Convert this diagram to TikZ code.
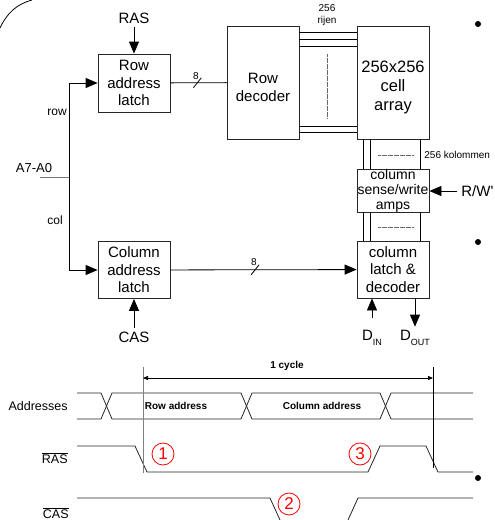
\documentclass[tikz,border=0pt]{standalone}
\usepackage{fontspec}
\setmainfont{Liberation Sans}[Ligatures=TeXOff]
\usetikzlibrary{arrows.meta}
\tikzset{
blk/.style={draw=black!85, align=center, inner sep=0pt, minimum width=72pt,
  font=\fontsize{15}{17.5}\selectfont},
arr/.style={-{Triangle[length=12pt,width=10pt]}},
lbl/.style={font=\fontsize{15}{17}\selectfont},
small lbl/.style={font=\fontsize{10}{12}\selectfont, align=center, inner sep=0pt},
sig lbl/.style={font=\fontsize{12.5}{14}\selectfont, anchor=east, inner sep=0pt},
bus lbl/.style={font=\bfseries\fontsize{10}{12}\selectfont},
numcirc/.style={circle, draw=red, text=red, minimum size=22pt, inner sep=0pt,
  font=\fontsize{17}{17}\selectfont},
wave/.style={black!85},
wires/.style={dash pattern=on 0.6pt off 0.6pt, line width=0.6pt, black!60},
}
\begin{document}
\begin{tikzpicture}[x=1pt, y=-1pt, line width=0.8pt]
\useasboundingbox (0,0) rectangle (495,520);
\draw (0,28) .. controls (7,13) and (17,4) .. (32,0);

% blocks
\node[blk, minimum height=58pt] (rowlatch) at (134,83) {Row\\address\\latch};
\node[blk, minimum height=57pt] (collatch) at (134,270) {Column\\address\\latch};
\node[blk, minimum height=113pt,
  label={[align=center, font=\fontsize{15}{18.5}\selectfont, yshift=-5pt]center:Row\\decoder}] (rowdec) at (263,82.5) {};
\node[blk, minimum height=113pt,
  label={[align=center, font=\fontsize{16.5}{19}\selectfont, yshift=-5pt]center:256x256\\cell\\array}] (cells) at (393,82.5) {};
\node[blk, minimum height=43pt, font=\fontsize{14}{15}\selectfont] (sense) at (393,190.5) {column\\sense/write\\amps};
\node[blk, minimum height=57pt] (colltch) at (393,269.5) {column\\latch \&\\decoder};

\node[lbl] (ras) at (134,18) {RAS};
\node[lbl] (cas) at (134,337) {CAS};
\node[font=\fontsize{13}{15}\selectfont] (addr) at (34,168) {A7-A0};
\node[font=\fontsize{12}{14}\selectfont] (rowtxt) at (57,112) {row};
\node[font=\fontsize{12}{14}\selectfont] (coltxt) at (55,220) {col};
\node[lbl, anchor=west, inner sep=4pt] (rw) at (457,191) {R/W'};
\node[lbl] (din) at (372,338) {D\raisebox{-0.6ex}{\fontsize{9}{9}\selectfont IN}};
\node[lbl] (dout) at (415,338) {D\raisebox{-0.6ex}{\fontsize{9}{9}\selectfont OUT}};

% address path
\coordinate (a0) at (40,177);
\coordinate (split) at (69,177);
\draw[black!55] (a0) -- (split);
\draw[arr] (split) |- (rowlatch.west);
\draw[arr] (split) |- (collatch.west);
\draw[arr] (ras) -- (rowlatch);
\draw[arr] (cas) -- (collatch);

\draw (rowlatch) -- coordinate[pos=0.48] (w1) (rowdec);
\draw ([shift={(-4,5)}]w1) -- ([shift={(4,-5)}]w1);
\node[small lbl] at (196,76) {8};
\draw[arr] (collatch) -- coordinate[pos=0.455] (w2) (colltch);
\draw ([shift={(-4,5)}]w2) -- ([shift={(4,-5)}]w2);
\node[small lbl] at (254,262) {8};

% rows and columns
\foreach \dy in {7,14,21,101,107}
  \draw ([yshift=-\dy pt]rowdec.north east) -- ([yshift=-\dy pt]cells.north west);
\foreach \dx in {7,14,64} {
  \draw ([xshift=\dx pt]cells.south west) -- ([xshift=\dx pt]sense.north west);
  \draw ([xshift=\dx pt]sense.south west) -- ([xshift=\dx pt]colltch.north west);
}
\draw[wires] (327,54) -- (327,118);
\draw[wires] (378,155) -- (414,155);
\draw[wires] (378,227) -- (414,227);
\node[small lbl] at (327,15) {256\\rijen};
\node[small lbl, anchor=west] at (424,155) {256 kolommen};

\draw[arr] (rw.west) -- (rw.west -| sense.east);
\draw[arr] ([yshift=9pt]din.north) -- (din.north |- colltch.south);
\draw[arr] (dout.north |- colltch.south) -- (dout.north);

% timing
\node[sig lbl] at (68,406) {Addresses};
\node[sig lbl] at (68,458) {$\overline{\mbox{RAS}}$};
\node[sig lbl] at (69,513) {$\overline{\mbox{CAS}}$};
\draw[wave] (77,393) -- (101,393) -- (112,419) -- (241,419) -- (252,393) -- (380,393) -- (391,419) -- (473,419);
\draw[wave] (77,419) -- (101,419) -- (112,393) -- (241,393) -- (252,419) -- (380,419) -- (391,393) -- (473,393);
\node[bus lbl] at (176,406) {Row address};
\node[bus lbl] at (322,406) {Column address};
\draw[wave] (77,446) -- (135,446) -- (147,472) -- (368,472) -- (380,446) -- (426,446) -- (438,472) -- (473,472);
\draw[wave] (77,498) -- (270,498) -- (280,520);
\draw[wave] (348,520) -- (358,498) -- (473,498);

\coordinate (c0) at (143,378);
\coordinate (c1) at (433,378);
\draw[black!50] (143,367) -- (143,473);
\draw (433,367) -- (433,468);
\draw[{Triangle[length=5pt,width=4pt]}-{Triangle[length=5pt,width=4pt]}, line width=0.6pt] (c0) -- (c1);
\node[bus lbl] at (287,366) {1 cycle};

\node[numcirc] (n1) at (163,454) {1};
\node[numcirc] (n2) at (289,504) {2};
\node[numcirc] (n3) at (360,454) {3};

\fill (478,24) circle (3pt);
\fill (478,242) circle (3pt);
\fill (478,478) circle (3pt);
\end{tikzpicture}
\end{document}
